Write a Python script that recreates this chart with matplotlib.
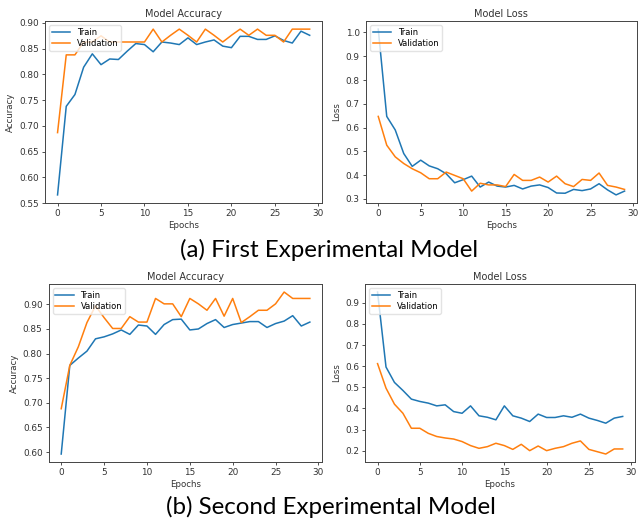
import matplotlib
matplotlib.use("Agg")
import matplotlib.pyplot as plt
import numpy as np

epochs = np.arange(30)

# (a) first experimental model
acc_train_a = [0.566, 0.738, 0.761, 0.814, 0.840, 0.819, 0.830, 0.829, 0.845, 0.860,
               0.858, 0.844, 0.863, 0.861, 0.858, 0.871, 0.858, 0.863, 0.867, 0.855,
               0.852, 0.874, 0.874, 0.868, 0.868, 0.875, 0.866, 0.861, 0.884, 0.876]
acc_val_a = [0.687, 0.838, 0.838, 0.863, 0.863, 0.875, 0.863, 0.863, 0.863, 0.863,
             0.863, 0.888, 0.863, 0.876, 0.888, 0.876, 0.863, 0.888, 0.876, 0.863,
             0.876, 0.888, 0.876, 0.888, 0.876, 0.876, 0.863, 0.888, 0.888, 0.888]
loss_train_a = [1.014, 0.647, 0.590, 0.491, 0.437, 0.463, 0.439, 0.427, 0.406, 0.368,
                0.381, 0.396, 0.350, 0.371, 0.354, 0.350, 0.357, 0.342, 0.354, 0.359,
                0.348, 0.325, 0.324, 0.340, 0.335, 0.342, 0.364, 0.338, 0.317, 0.333]
loss_val_a = [0.647, 0.526, 0.477, 0.449, 0.427, 0.410, 0.385, 0.385, 0.413, 0.399,
              0.385, 0.333, 0.366, 0.359, 0.359, 0.352, 0.403, 0.378, 0.378, 0.392,
              0.371, 0.396, 0.364, 0.352, 0.382, 0.378, 0.409, 0.357, 0.350, 0.340]

# (b) second experimental model
acc_train_b = [0.596, 0.776, 0.791, 0.805, 0.830, 0.834, 0.840, 0.848, 0.839, 0.858,
               0.856, 0.839, 0.859, 0.869, 0.870, 0.848, 0.850, 0.861, 0.869, 0.853,
               0.859, 0.862, 0.865, 0.865, 0.853, 0.861, 0.866, 0.877, 0.856, 0.864]
acc_val_b = [0.688, 0.776, 0.814, 0.863, 0.897, 0.873, 0.851, 0.851, 0.875, 0.864,
             0.864, 0.912, 0.901, 0.901, 0.875, 0.912, 0.901, 0.888, 0.912, 0.876,
             0.912, 0.863, 0.875, 0.888, 0.888, 0.901, 0.925, 0.912, 0.912, 0.912]
loss_train_b = [0.951, 0.596, 0.523, 0.485, 0.444, 0.433, 0.425, 0.412, 0.417, 0.385,
                0.377, 0.412, 0.365, 0.358, 0.346, 0.412, 0.365, 0.354, 0.338, 0.373,
                0.357, 0.357, 0.365, 0.358, 0.373, 0.354, 0.343, 0.330, 0.354, 0.362]
loss_val_b = [0.612, 0.496, 0.420, 0.377, 0.306, 0.306, 0.282, 0.267, 0.260, 0.255,
              0.243, 0.224, 0.211, 0.219, 0.235, 0.224, 0.206, 0.230, 0.200, 0.222,
              0.200, 0.211, 0.219, 0.235, 0.246, 0.206, 0.195, 0.184, 0.208, 0.208]

captions = ["(a) First Experimental Model", "(b) Second Experimental Model"]


def panel(ax, train, val, title, ylabel):
    ax.plot(epochs, train, color="#1f77b4", lw=1.1, label="Train")
    ax.plot(epochs, val, color="#ff7f0e", lw=1.1, label="Validation")
    ax.set_title(title, fontsize=7, pad=3, color="#333333")
    ax.set_xlabel("Epochs", fontsize=6.2, labelpad=2, color="#333333")
    ax.set_ylabel(ylabel, fontsize=6.2, labelpad=3, color="#333333")
    ax.tick_params(labelsize=6.4, length=2.5, width=0.6, pad=2, colors="#333333")
    for s in ax.spines.values():
        s.set_linewidth(0.7)
        s.set_color("#444444")
    ax.legend(loc="upper left", fontsize=6, handlelength=2.2, borderpad=0.3,
              labelspacing=0.3, framealpha=0.8, edgecolor="#dddddd")


fig = plt.figure(figsize=(6.42, 5.21), dpi=100)

ax1 = fig.add_axes([0.070, 0.610, 0.432, 0.350])
ax2 = fig.add_axes([0.570, 0.610, 0.422, 0.350])
ax3 = fig.add_axes([0.076, 0.113, 0.426, 0.342])
ax4 = fig.add_axes([0.569, 0.113, 0.420, 0.342])

panel(ax1, acc_train_a, acc_val_a, "Model Accuracy", "Accuracy")
panel(ax2, loss_train_a, loss_val_a, "Model Loss", "Loss")
panel(ax3, acc_train_b, acc_val_b, "Model Accuracy", "Accuracy")
panel(ax4, loss_train_b, loss_val_b, "Model Loss", "Loss")

fig.text(0.513, 1 - 250 / 521, captions[0], ha="center", va="center",
         fontsize=17.4, family="Lato", color="black")
fig.text(0.515, 1 - 507 / 521, captions[1], ha="center", va="center",
         fontsize=17.4, family="Lato", color="black")

fig.savefig("out.png", dpi=100)
